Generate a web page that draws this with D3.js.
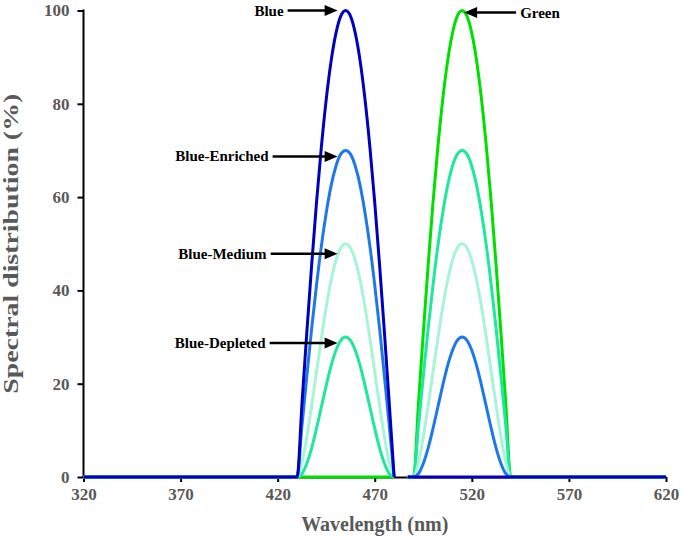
<!DOCTYPE html>
<html>
<head>
<meta charset="utf-8">
<script src="https://cdn.jsdelivr.net/npm/d3@7"></script>
<style>
  body { margin: 0; background: #fff; }
  svg { display: block; }
  .tick-label { font-family: 'Liberation Serif', 'Times New Roman', serif; font-weight: bold; fill: #595959; }
  .note { font-family: 'Liberation Serif', 'Times New Roman', serif; font-weight: bold; fill: #000; font-size: 15px; }
</style>
</head>
<body>
<div class="graph"><svg></svg></div>
<script>
// tick labels
const xTicks = [320, 370, 420, 470, 520, 570, 620]
const yTicks = [0, 20, 40, 60, 80, 100]

// wavelengths (nm) sampled across the two emission bands
const blueBandNm = [430, 432.5, 435, 437.5, 440, 442.5, 445, 447.5, 450, 452.5, 455,
  457.5, 460, 462.5, 465, 467.5, 470, 472.5, 475, 477.5, 480]
const greenBandNm = [490, 492.5, 495, 497.5, 500, 502.5, 505, 507.5, 510, 512.5, 515,
  517.5, 520, 522.5, 525, 527.5, 530, 532.5, 535, 537.5, 540]

// flat parts of every curve
const leftEndNm = 320
const greenStartNm = 487
const rightEndNm = 620

// series values (%)
const blueInBlueBand = [0, 15.6, 30.9, 45.4, 58.8, 70.7, 80.9, 89.1, 95.1, 98.8, 100,
  98.8, 95.1, 89.1, 80.9, 70.7, 58.8, 45.4, 30.9, 15.6, 0]
const blueInGreenBand = [0, 0, 0, 0, 0, 0, 0, 0, 0, 0, 0, 0, 0, 0, 0, 0, 0, 0, 0, 0, 0]

const enrichedInBlueBand = [0, 10.9, 21.6, 31.8, 41.1, 49.5, 56.6, 62.4, 66.6, 69.2, 70,
  69.2, 66.6, 62.4, 56.6, 49.5, 41.1, 31.8, 21.6, 10.9, 0]
const enrichedInGreenBand = [0, 0.7, 2.9, 6.2, 10.4, 15, 19.6, 23.8, 27.1, 29.3, 30,
  29.3, 27.1, 23.8, 19.6, 15, 10.4, 6.2, 2.9, 0.7, 0]

const mediumInBlueBand = [0, 3.1, 8.6, 15.3, 22.5, 29.7, 36.4, 42.1, 46.4, 49.1, 50,
  49.1, 46.4, 42.1, 36.4, 29.7, 22.5, 15.3, 8.6, 3.1, 0]
const mediumInGreenBand = [0, 3.1, 8.6, 15.3, 22.5, 29.7, 36.4, 42.1, 46.4, 49.1, 50,
  49.1, 46.4, 42.1, 36.4, 29.7, 22.5, 15.3, 8.6, 3.1, 0]

const depletedInBlueBand = [0, 0.7, 2.9, 6.2, 10.4, 15, 19.6, 23.8, 27.1, 29.3, 30,
  29.3, 27.1, 23.8, 19.6, 15, 10.4, 6.2, 2.9, 0.7, 0]
const depletedInGreenBand = [0, 10.9, 21.6, 31.8, 41.1, 49.5, 56.6, 62.4, 66.6, 69.2, 70,
  69.2, 66.6, 62.4, 56.6, 49.5, 41.1, 31.8, 21.6, 10.9, 0]

const greenInBlueBand = [0, 0, 0, 0, 0, 0, 0, 0, 0, 0, 0, 0, 0, 0, 0, 0, 0, 0, 0, 0, 0]
const greenInGreenBand = [0, 15.6, 30.9, 45.4, 58.8, 70.7, 80.9, 89.1, 95.1, 98.8, 100,
  98.8, 95.1, 89.1, 80.9, 70.7, 58.8, 45.4, 30.9, 15.6, 0]

// drawn back to front
const seriesNames = ['Green', 'Blue-Depleted', 'Blue-Medium', 'Blue-Enriched', 'Blue']
const seriesColors = ['#00e000', '#1ee89c', '#a6f5d6', '#1f78ea', '#0000c0']
const seriesBlue = [greenInBlueBand, depletedInBlueBand, mediumInBlueBand, enrichedInBlueBand, blueInBlueBand]
const seriesGreen = [greenInGreenBand, depletedInGreenBand, mediumInGreenBand, enrichedInGreenBand, blueInGreenBand]

// annotations: label, peak wavelength, peak value
const noteLabels = ['Blue', 'Blue-Enriched', 'Blue-Medium', 'Blue-Depleted', 'Green']
const notePeakNm = [455, 455, 455, 455, 515]
const notePeakValue = [100, 70, 50, 30, 100]

const width = 683
const height = 540
const margin = { top: 10.5, right: 17, bottom: 63, left: 83.5 }

const svg = d3.select('.graph').select('svg')
  .attr('width', width)
  .attr('height', height)

const x = d3.scaleLinear()
  .domain([320, 620])
  .range([margin.left, width - margin.right])

const y = d3.scaleLinear()
  .domain([0, 100])
  .range([height - margin.bottom, margin.top])

// axes
const xAxis = svg.append('g')
  .attr('transform', `translate(0, ${y(0)})`)
  .call(d3.axisBottom(x).tickValues(xTicks).tickSize(5).tickSizeOuter(0).tickPadding(6))
xAxis.selectAll('path, line').attr('stroke', '#000').attr('stroke-width', 2)
xAxis.selectAll('text').attr('class', 'tick-label').attr('font-size', 17)

const yAxis = svg.append('g')
  .attr('transform', `translate(${x(320)}, 0)`)
  .call(d3.axisLeft(y).tickValues(yTicks).tickSize(6).tickSizeOuter(0).tickPadding(8))
yAxis.selectAll('path, line').attr('stroke', '#000').attr('stroke-width', 2)
yAxis.selectAll('text').attr('class', 'tick-label').attr('font-size', 17)
yAxis.select('.domain').attr('d', `M0,${y(0)}V${y(100) - 1}`)

svg.append('text')
  .attr('class', 'tick-label')
  .attr('font-size', 20)
  .attr('text-anchor', 'middle')
  .attr('x', (x(320) + x(620)) / 2)
  .attr('y', 531)
  .text('Wavelength (nm)')

svg.append('text')
  .attr('class', 'tick-label')
  .attr('font-size', 21)
  .attr('text-anchor', 'middle')
  .attr('textLength', 300)
  .attr('lengthAdjust', 'spacingAndGlyphs')
  .attr('transform', `translate(18, ${(y(0) + y(100)) / 2}) rotate(-90)`)
  .text('Spectral distribution (%)')

// curves
const line = d3.line()
  .defined((d) => d !== null)
  .curve(d3.curveMonotoneX)
  .x((d) => x(d[0]))
  .y((d) => y(d[1]))

seriesNames.forEach((name, i) => {
  const pts = [[leftEndNm, 0]]
  blueBandNm.forEach((nm, j) => pts.push([nm, seriesBlue[i][j]]))
  pts.push(null)
  pts.push([greenStartNm, 0])
  greenBandNm.forEach((nm, j) => pts.push([nm, seriesGreen[i][j]]))
  pts.push([rightEndNm, 0])

  svg.append('path')
    .datum(pts)
    .attr('class', 'series')
    .attr('fill', 'none')
    .attr('stroke', seriesColors[i])
    .attr('stroke-width', 3)
    .attr('stroke-linejoin', 'round')
    .attr('d', line)
})

// annotations with arrows
const notes = svg.append('g')
const arrowLen = [50, 65, 67, 68, 52]
const arrowDy = [0, 6, 10, 6, 2]
noteLabels.forEach((label, i) => {
  const toRight = notePeakNm[i] < 480
  const dir = toRight ? 1 : -1
  const tipX = x(notePeakNm[i]) - dir * (toRight ? 8 : 2)
  const tipY = y(notePeakValue[i]) + arrowDy[i]
  const startX = tipX - dir * arrowLen[i]

  notes.append('line')
    .attr('x1', startX)
    .attr('y1', tipY)
    .attr('x2', tipX - dir * 10)
    .attr('y2', tipY)
    .attr('stroke', '#000')
    .attr('stroke-width', 2.5)

  notes.append('path')
    .attr('d', `M${tipX},${tipY}L${tipX - dir * 13},${tipY - 5.5}L${tipX - dir * 13},${tipY + 5.5}Z`)
    .attr('fill', '#000')

  notes.append('text')
    .attr('class', 'note')
    .attr('x', startX - dir * 4)
    .attr('y', tipY + 5)
    .attr('text-anchor', toRight ? 'end' : 'start')
    .text(label)
})
</script>
</body>
</html>
